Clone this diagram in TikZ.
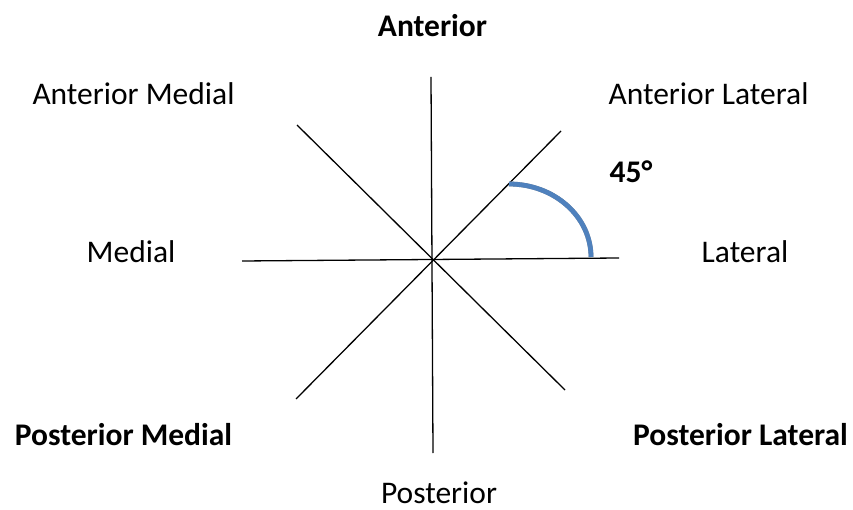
\documentclass[tikz,border=0pt]{standalone}
\usepackage{fontspec}
\setmainfont{Carlito}
\usepackage{tikz}
\usetikzlibrary{positioning}
\definecolor{arcblue}{RGB}{79,129,189}
\definecolor{arcshade}{RGB}{145,145,145}
\tikzset{
  dirlabel/.style={anchor=base, inner sep=0pt, font=\fontsize{31.5}{38}\selectfont},
  dirbold/.style={dirlabel, font=\fontsize{31.5}{38}\selectfont\bfseries},
  axis/.style={line width=1.3pt, black},
  anglearc/.style={line width=4.8pt, arcblue}
}

\begin{document}
\begin{tikzpicture}[x=1pt,y=-1pt]
  \useasboundingbox (0,0) rectangle (853,510);
  % line ends
  \coordinate (ant) at (431,77);
  \coordinate (post) at (433,453);
  \coordinate (med) at (242,261);
  \coordinate (lat) at (619,258);
  \coordinate (antlat) at (561,131);
  \coordinate (postmed) at (296,399);
  \coordinate (antmed) at (297,125);
  \coordinate (postlat) at (565,390);
  \draw[axis] (ant) -- (post);
  \draw[axis] (med) -- (lat);
  \draw[axis] (antlat) -- (postmed);
  \draw[axis] (antmed) -- (postlat);
  % 45 degree arc with shadow
  \coordinate (arcstart) at (509,184);
  \draw[anglearc, arcshade, shift={(-2.5,3.5)}] (arcstart) arc[start angle=90, end angle=0, x radius=82pt, y radius=73pt];
  \draw[anglearc] (arcstart) arc[start angle=90, end angle=0, x radius=82pt, y radius=73pt];
  % labels
  \node[dirbold] (lbant) at (432.5,37) {Anterior};
  \node[dirlabel] (lbantmed) at (133.5,105) {Anterior Medial};
  \node[dirlabel] (lbantlat) at (708.5,105) {Anterior Lateral};
  \node[dirbold] (lbangle) at (631,183) {45°};
  \node[dirlabel] (lbmed) at (131,263) {Medial};
  \node[dirlabel] (lblat) at (745,263) {Lateral};
  \node[dirbold] (lbpostmed) at (123.5,445) {Posterior Medial};
  \node[dirbold] (lbpostlat) at (740.5,445) {Posterior Lateral};
  \node[dirlabel] (lbpost) at (439,503) {Posterior};
\end{tikzpicture}
\end{document}
